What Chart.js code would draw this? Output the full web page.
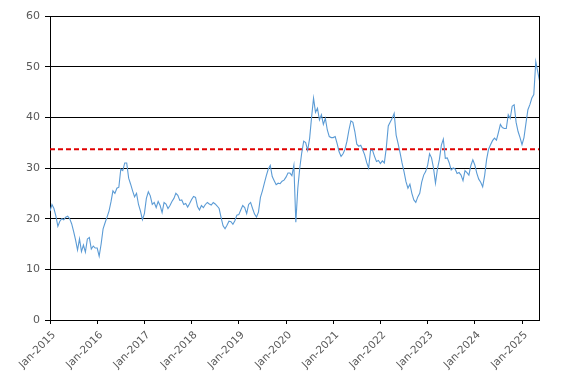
<!DOCTYPE html>
<html><head><meta charset="utf-8">
<script src="https://cdn.jsdelivr.net/npm/chart.js@4"></script>
<style>html,body{margin:0;padding:0;background:#fff;overflow:hidden;}</style>
</head><body>
<canvas id="c" width="567" height="383" style="display:block;width:567px;height:383px;"></canvas>
<script>
// Half-monthly readings (24 per year) starting Jan 2015
const startYear = 2015;
const stepsPerYear = 24;
const v2015 = [21.5,22.8,22,20.5,18.5,19.5,20,19.8,20.3,20.5,20,19,17.5,15.8,13.8,16,13.5,14.8,13.4,16,16.3,14,14.6,14.2];
const v2016 = [14.2,12.6,15,18,19.2,20.3,21.5,23.3,25.5,25,26,26.2,29.8,29.5,31,31,28,26.8,25.5,24.3,25,22.8,21.5,19.8];
const v2017 = [21,24,25.3,24.5,22.8,23.2,22.2,23.4,22.6,21.2,23.2,22.9,22,22.6,23.4,24,25,24.6,23.6,23.7,22.8,23,22.3,23];
const v2018 = [23.8,24.4,24.2,22.4,21.7,22.6,22.2,22.8,23.2,22.9,22.7,23.2,22.9,22.5,22,20.2,18.6,18,18.7,19.5,19.4,18.9,19.6,20.7];
const v2019 = [20.8,21.7,22.6,22.2,21,22.8,23.2,22,20.9,20.3,21.3,24.2,25.5,27,28.5,29.8,30.5,28.3,27.5,26.7,27,26.9,27.4,27.6];
const v2020 = [28.2,29,29,28.5,30.5,19.3,26,30,33,35.3,35,33.5,35.8,40,43.8,41,41.8,39.5,40.5,38.6,39.8,37.5,36.2,36];
const v2021 = [36,36.2,34.8,33.2,32.3,32.8,33.7,35.3,37.5,39.3,39,37.2,34.7,34.3,34.5,33.6,32.6,31.1,30,33.5,33.5,32.3,31.3,31.5];
const v2022 = [30.9,31.4,31,34,38.3,39.1,39.8,40.8,36.5,34.8,33,31,29.3,27.3,26,26.8,25,23.7,23.2,24.3,25,27.2,28.6,29.3];
const v2023 = [30.5,32.8,32,30,27,29.8,31.7,34.5,35.7,31.9,32,31,29.6,30,29.8,28.9,29.1,28.6,27.5,29.5,29.1,28.6,30.5,31.6];
const v2024 = [30.6,29,27.8,27.2,26.3,28.5,31.7,33.7,34.6,35.4,35.9,35.5,37,38.6,38,37.8,37.8,40.5,39.8,42.2,42.5,39,37.2,36];
const v2025 = [34.6,36,38.8,41.5,42.5,43.8,44.5,51,49,47];

const yearTicks = [2015,2016,2017,2018,2019,2020,2021,2022,2023,2024,2025];
const tickLabels = ['Jan-2015','Jan-2016','Jan-2017','Jan-2018','Jan-2019','Jan-2020','Jan-2021','Jan-2022','Jan-2023','Jan-2024','Jan-2025'];
const yTicks = [0,10,20,30,40,50,60];
const referenceLevel = 33.7;
const xMin = 2015;
const xMax = 2025.36;

const series = [v2015,v2016,v2017,v2018,v2019,v2020,v2021,v2022,v2023,v2024,v2025];
const points = [];
series.forEach((arr, i) => arr.forEach((v, k) => points.push({x: startYear + i + k / stepsPerYear, y: v})));

const labelColor = '#595959';

new Chart(document.getElementById('c'), {
  type: 'line',
  data: {
    datasets: [
      {data: points, borderColor: '#5b9bd5', borderWidth: 1.1, pointRadius: 0, tension: 0, fill: false},
      {data: [{x: xMin, y: referenceLevel}, {x: xMax, y: referenceLevel}], borderColor: '#e00000', borderWidth: 2, borderDash: [5, 3], pointRadius: 0, fill: false}
    ]
  },
  options: {
    responsive: false,
    devicePixelRatio: 1,
    animation: false,
    layout: {padding: {top: 16, right: 28, left: 0, bottom: 0}},
    plugins: {legend: {display: false}, tooltip: {enabled: false}},
    scales: {
      x: {
        type: 'linear', min: xMin, max: xMax,
        afterBuildTicks: s => { s.ticks = yearTicks.map(v => ({value: v})); },
        ticks: {autoSkip: false, maxRotation: 45, minRotation: 45, color: labelColor,
          font: {family: 'DejaVu Sans', size: 10.5}, padding: 5, labelOffset: 4,
          callback: v => tickLabels[yearTicks.indexOf(v)]},
        grid: {drawOnChartArea: false, drawTicks: true, tickLength: 4, color: '#000'},
        border: {color: '#000', width: 1},
        afterFit: s => { s.height = 63; }
      },
      y: {
        min: 0, max: 60,
        afterBuildTicks: s => { s.ticks = yTicks.map(v => ({value: v})); },
        ticks: {color: labelColor, font: {family: 'DejaVu Sans', size: 11}, padding: 5},
        grid: {color: '#000', tickLength: 5},
        border: {color: '#000', width: 1},
        afterFit: s => { s.width = 50; }
      },
      y2: {
        position: 'right', min: 0, max: 60,
        ticks: {display: false},
        grid: {display: false, drawTicks: false},
        border: {display: true, color: '#000', width: 1},
        afterFit: s => { s.width = 0; }
      }
    }
  }
});
</script>
</body></html>
